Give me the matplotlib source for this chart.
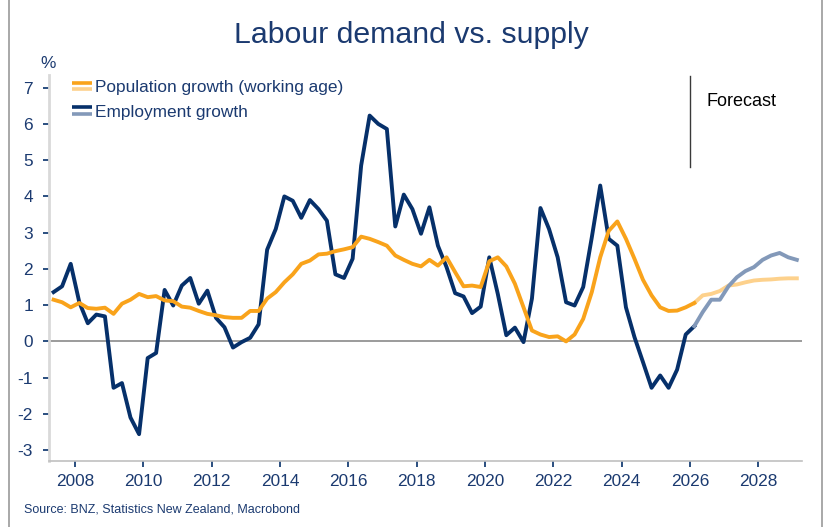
import matplotlib
matplotlib.use("Agg")
import matplotlib.pyplot as plt
import matplotlib.dates as mdates
from matplotlib.lines import Line2D
from matplotlib.legend_handler import HandlerBase
import pandas as pd

# ---------------- data ----------------
actual_start = "2007Q2"
forecast_start = "2026Q1"

employment_actual = [1.36, 1.52, 2.14, 1.08, 0.50, 0.74, 0.69, -1.28, -1.15, -2.10,
                     -2.56, -0.46, -0.32, 1.42, 0.99, 1.54, 1.75, 1.04, 1.40, 0.65,
                     0.39, -0.17, -0.02, 0.10, 0.47, 2.53, 3.10, 4.00, 3.88, 3.41,
                     3.90, 3.65, 3.33, 1.85, 1.75, 2.28, 4.85, 6.23, 6.00, 5.86,
                     3.17, 4.05, 3.65, 2.97, 3.70, 2.64, 2.05, 1.33, 1.24, 0.78,
                     0.96, 2.32, 1.31, 0.17, 0.38, -0.02, 1.18, 3.68, 3.10, 2.32,
                     1.08, 0.99, 1.50, 2.87, 4.30, 2.83, 2.64, 0.94, 0.12, -0.57,
                     -1.28, -0.94, -1.28, -0.78, 0.19, 0.42]
population_actual = [1.15, 1.08, 0.94, 1.06, 0.92, 0.90, 0.93, 0.76, 1.04, 1.15,
                     1.31, 1.22, 1.25, 1.13, 1.11, 0.96, 0.93, 0.84, 0.76, 0.72,
                     0.67, 0.65, 0.65, 0.84, 0.84, 1.18, 1.36, 1.63, 1.85, 2.14,
                     2.23, 2.40, 2.42, 2.49, 2.54, 2.60, 2.89, 2.83, 2.74, 2.64,
                     2.37, 2.25, 2.14, 2.07, 2.25, 2.09, 2.32, 1.91, 1.52, 1.54,
                     1.50, 2.21, 2.32, 2.07, 1.59, 0.94, 0.30, 0.19, 0.12, 0.14,
                     0.00, 0.19, 0.62, 1.36, 2.32, 3.05, 3.31, 2.83, 2.28, 1.70,
                     1.27, 0.94, 0.84, 0.85, 0.94, 1.06]
employment_forecast = [0.42, 0.81, 1.15, 1.15, 1.52, 1.77, 1.94, 2.05, 2.25, 2.37,
                       2.44, 2.32, 2.25]
population_forecast = [1.06, 1.27, 1.31, 1.39, 1.54, 1.57, 1.63, 1.68, 1.70, 1.71,
                       1.73, 1.74, 1.74]

labels = ["Population growth (working age)", "Employment growth"]
title = "Labour demand vs. supply"
source = "Source: BNZ, Statistics New Zealand, Macrobond"
y_ticks = [-3, -2, -1, 0, 1, 2, 3, 4, 5, 6, 7]


def mid_quarter_dates(start, n):
    per = pd.period_range(start=start, periods=n, freq="Q")
    return per.to_timestamp(how="start") + pd.Timedelta(days=45)


x_act = mid_quarter_dates(actual_start, len(employment_actual))
x_fc = mid_quarter_dates(forecast_start, len(employment_forecast))

# ---------------- style ----------------
NAVY = "#06306A"
NAVY_L = "#8399B9"
ORANGE = "#F9A31B"
ORANGE_L = "#FDD18C"
TXT = "#1B3A70"

plt.rcParams["font.family"] = ["Liberation Sans", "DejaVu Sans"]

W, H = 829, 527
fig = plt.figure(figsize=(W / 100, H / 100), dpi=100)
ax = fig.add_axes([49 / W, (H - 461) / H, (801.7 - 49) / W, (461 - 75) / H])

lw = 2.8
ax.plot(x_act, employment_actual, color=NAVY, lw=lw, zorder=3)
ax.plot(x_act, population_actual, color=ORANGE, lw=lw, zorder=4)
ax.plot(x_fc, population_forecast, color=ORANGE_L, lw=lw, zorder=3)
ax.plot(x_fc, employment_forecast, color=NAVY_L, lw=lw, zorder=4)

ax.axhline(0, color="#8a8a8a", lw=1.2, zorder=2)

ax.set_ylim(-3.3, 7.35)
ax.set_xlim(pd.Timestamp("2007-03-28"), pd.Timestamp("2029-04-08"))
ax.set_yticks(y_ticks)
ax.set_yticklabels([str(t) for t in y_ticks])
ax.xaxis.set_major_locator(mdates.YearLocator(2))
ax.xaxis.set_major_formatter(mdates.DateFormatter("%Y"))

for s in ["top", "right"]:
    ax.spines[s].set_visible(False)
ax.spines["left"].set_color("#d9d9d9")
ax.spines["left"].set_linewidth(2.0)
ax.spines["bottom"].set_color("#c0c0c0")
ax.spines["bottom"].set_linewidth(1.2)
ax.tick_params(axis="both", colors=NAVY, labelcolor=TXT, labelsize=12.4,
               length=4.5, width=1.2, direction="out")
ax.tick_params(axis="y", pad=7)
ax.tick_params(axis="x", pad=4.5)

# forecast marker
ax.axvline(pd.Timestamp("2026-01-01"), ymin=0.762, ymax=0.997, color="#3a3a3a", lw=1.0)
fig.text(707 / W, 1 - 101.5 / H, "Forecast", fontsize=13, color="black",
         ha="left", va="center")


class TwoStripe(HandlerBase):
    def __init__(self, c1, c2):
        super().__init__()
        self.c1, self.c2 = c1, c2

    def create_artists(self, legend, orig_handle, xdescent, ydescent, width,
                       height, fontsize, trans):
        ym = height / 2 - ydescent
        d = 2.3
        l1 = Line2D([-xdescent, width - xdescent], [ym + d, ym + d], color=self.c1,
                    lw=2.6, solid_capstyle="butt", transform=trans)
        l2 = Line2D([-xdescent, width - xdescent], [ym - d, ym - d], color=self.c2,
                    lw=2.6, solid_capstyle="butt", transform=trans)
        return [l1, l2]


h1 = Line2D([], [], color=ORANGE)
h2 = Line2D([], [], color=NAVY)
leg = fig.legend([h1, h2], labels, loc="upper left",
                 bbox_to_anchor=(71.7 / W, 1 - 80 / H),
                 frameon=False, fontsize=12.4, borderpad=0, borderaxespad=0,
                 handlelength=1.15, handletextpad=0.2, labelspacing=0.55,
                 handler_map={h1: TwoStripe(ORANGE, ORANGE_L),
                              h2: TwoStripe(NAVY, NAVY_L)})
for t in leg.get_texts():
    t.set_color(TXT)

fig.text(411 / W, 1 - 35 / H, title, fontsize=21.8, color=TXT, ha="center", va="center")
fig.text(48 / W, 1 - 63 / H, "%", fontsize=12.4, color=TXT, ha="center", va="center")
fig.text(24 / W, 1 - 509 / H, source, fontsize=9, color=TXT, ha="left", va="center")

# figure border lines
fig.add_artist(Line2D([9 / W, 9 / W], [0, 1], color="#9a9a9a", lw=1.2))
fig.add_artist(Line2D([822 / W, 822 / W], [0, 1], color="#9a9a9a", lw=1.2))

fig.savefig("out.png", dpi=100)
